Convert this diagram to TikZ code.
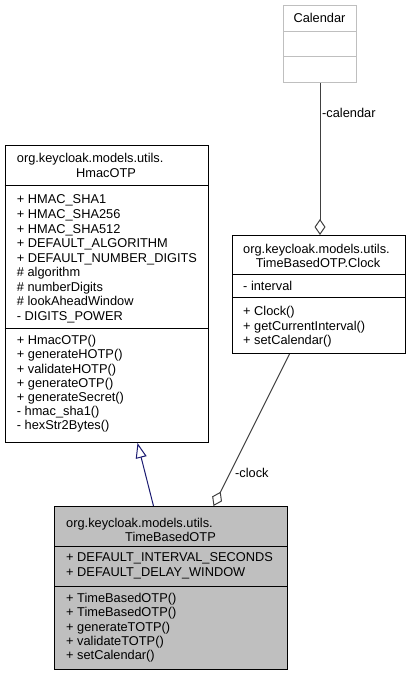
\documentclass[tikz,border=0pt]{standalone}
\usepackage{fontspec}
\setmainfont{Liberation Sans}
\usetikzlibrary{calc}
\usetikzlibrary{positioning}
\usetikzlibrary{arrows.meta}

\definecolor{boxgray}{HTML}{BFBFBF}
\definecolor{linkgray}{HTML}{404040}
\definecolor{inherblue}{HTML}{191970}

\tikzset{
  classbox/.style={draw=black, line width=1pt, anchor=north west, inner sep=0pt},
  member/.style={anchor=base west, inner sep=0pt, font=\fontsize{12.8}{14.5}\selectfont},
  title/.style={member, anchor=base},
  aggr/.style={linkgray, line width=1pt, -{Diamond[open, length=16pt, width=11pt]}},
  inher/.style={inherblue, line width=1pt, -{Triangle[open, length=15pt, width=11pt]}}
}

\begin{document}
\begin{tikzpicture}[x=1pt,y=-1pt]
\useasboundingbox (0,0) rectangle (413,676);

% Calendar
\node[classbox, draw=boxgray, minimum width=73, minimum height=77] (calendar) at (283,5) {};
\draw[boxgray, line width=1pt] ($(calendar.north west)+(0,27)$) -- ($(calendar.north east)+(0,27)$);
\draw[boxgray, line width=1pt] ($(calendar.north west)+(0,52)$) -- ($(calendar.north east)+(0,52)$);
\node[title] (calname) at (319.5,22.6) {Calendar};

% HmacOTP
\node[classbox, minimum width=203.5, minimum height=297] (hmac) at (4.5,145) {};
\draw[line width=1pt] ($(hmac.north west)+(0,41)$) -- ($(hmac.north east)+(0,41)$);
\draw[line width=1pt] ($(hmac.north west)+(0,183)$) -- ($(hmac.north east)+(0,183)$);
\node[member] (hmpkg) at (16.7,163) {org.keycloak.models.utils.};
\node[title] (hmname) at (106,177.5) {HmacOTP};
\foreach \m [count=\i from 0] in {+ HMAC\_SHA1, + HMAC\_SHA256, + HMAC\_SHA512,
    + DEFAULT\_ALGORITHM, + DEFAULT\_NUMBER\_DIGITS, \# algorithm, \# numberDigits,
    \# lookAheadWindow, - DIGITS\_POWER}
{
  \node[member] (hmattr\i) at (16.7,204+\i*14.5) {\m};
}
\foreach \m [count=\i from 0] in {+ HmacOTP(), + generateHOTP(), + validateHOTP(),
    + generateOTP(), + generateSecret(), - hmac\_sha1(), - hexStr2Bytes()}
{
  \node[member] (hmop\i) at (16.7,344.6+\i*14.2) {\m};
}

% TimeBasedOTP.Clock
\node[classbox, minimum width=173, minimum height=118] (clock) at (232,235) {};
\draw[line width=1pt] ($(clock.north west)+(0,39)$) -- ($(clock.north east)+(0,39)$);
\draw[line width=1pt] ($(clock.north west)+(0,62)$) -- ($(clock.north east)+(0,62)$);
\node[member] (clpkg) at (243,253) {org.keycloak.models.utils.};
\node[title] (clname) at (318,267) {TimeBasedOTP.Clock};
\node[member] (clattr0) at (243,290.6) {- interval};
\foreach \m [count=\i from 0] in {+ Clock(), + getCurrentInterval(), + setCalendar()}
{
  \node[member] (clop\i) at (243,315.6+\i*14.6) {\m};
}

% TimeBasedOTP
\node[classbox, fill=boxgray, minimum width=233, minimum height=163] (totp) at (54,506) {};
\draw[line width=1pt] ($(totp.north west)+(0,40)$) -- ($(totp.north east)+(0,40)$);
\draw[line width=1pt] ($(totp.north west)+(0,80)$) -- ($(totp.north east)+(0,80)$);
\node[member] (tppkg) at (66,527.5) {org.keycloak.models.utils.};
\node[title] (tpname) at (170.5,541.3) {TimeBasedOTP};
\foreach \m [count=\i from 0] in {+ DEFAULT\_INTERVAL\_SECONDS, + DEFAULT\_DELAY\_WINDOW}
{
  \node[member] (tpattr\i) at (66,561.3+\i*15) {\m};
}
\foreach \m [count=\i from 0] in {+ TimeBasedOTP(), + TimeBasedOTP(), + generateTOTP(),
    + validateTOTP(), + setCalendar()}
{
  \node[member] (tpop\i) at (66,602.6+\i*14.2) {\m};
}

% links
\draw[aggr] (calendar.south) -- (calendar.south |- clock.north);
\node[member] (callbl) at (322,118) {-calendar};
\draw[aggr] ([xshift=-29.5pt]clock.south) -- ([xshift=42.5pt]totp.north);
\node[member] (clklbl) at (235,477.5) {-clock};
\draw[inher] ([xshift=-17.5pt]totp.north) -- ([xshift=30.75pt]hmac.south);
\end{tikzpicture}
\end{document}
